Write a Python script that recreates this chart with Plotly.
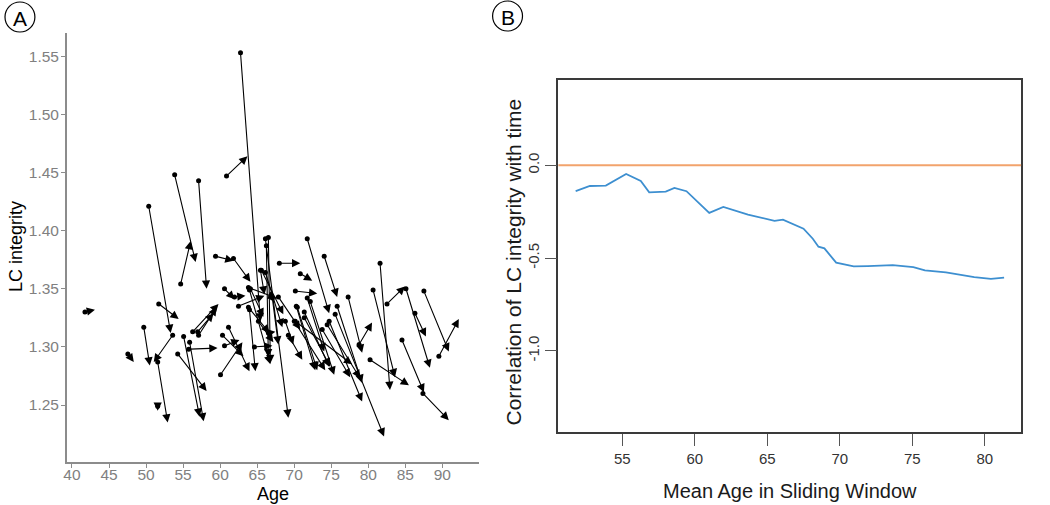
import plotly.graph_objects as go

W, H = 1050, 505

# ---- panel A: LC integrity at first visit (dot) and follow-up (arrow head) ----
age_start = [41.75, 47.54, 49.69, 51.71, 50.36, 53.59, 51.57, 51.57, 53.86, 54.67,
             57.09, 59.38, 61.80, 60.59, 61.94, 56.29, 56.96, 57.09, 55.07, 55.88,
             55.75, 54.27, 60.05, 61.13, 60.32, 60.59, 63.96, 63.96, 65.57, 60.86,
             62.75, 66.11, 66.51, 66.24, 67.99, 70.82, 70.15, 71.76, 74.05, 77.28,
             80.65, 81.59, 82.53, 85.09, 87.51, 86.30, 89.53, 84.55, 87.38, 80.24,
             78.76, 75.80, 75.53, 74.72, 70.15, 70.42, 71.36, 71.76, 72.17, 70.28,
             70.01, 71.36, 66.11, 65.44, 63.82, 64.63, 66.51, 63.82, 73.78, 74.45,
             64.09, 62.48, 65.17, 68.80, 67.86, 67.05, 69.21]
lc_start = [1.330, 1.294, 1.317, 1.337, 1.421, 1.310, 1.287, 1.249, 1.448, 1.354,
            1.443, 1.378, 1.376, 1.350, 1.343, 1.313, 1.313, 1.310, 1.309, 1.304,
            1.298, 1.294, 1.276, 1.317, 1.310, 1.301, 1.332, 1.349, 1.366, 1.447,
            1.553, 1.393, 1.394, 1.387, 1.372, 1.363, 1.348, 1.393, 1.378, 1.343,
            1.349, 1.372, 1.337, 1.350, 1.348, 1.329, 1.292, 1.306, 1.260, 1.289,
            1.302, 1.335, 1.328, 1.322, 1.322, 1.334, 1.330, 1.342, 1.339, 1.335,
            1.322, 1.325, 1.364, 1.366, 1.334, 1.300, 1.312, 1.351, 1.315, 1.319,
            1.350, 1.335, 1.322, 1.322, 1.343, 1.342, 1.310]
age_end = [43.10, 48.34, 50.50, 54.40, 53.32, 51.04, 52.92, 51.57, 56.69, 56.02,
           58.17, 61.80, 64.09, 61.94, 63.42, 59.78, 59.11, 59.52, 57.23, 57.77,
           59.65, 58.17, 63.01, 63.96, 63.15, 62.61, 64.76, 66.78, 68.53, 63.69,
           65.44, 69.21, 66.78, 66.51, 70.82, 72.44, 73.11, 74.72, 75.80, 79.17,
           83.61, 82.93, 84.95, 88.32, 90.87, 87.78, 92.22, 87.51, 90.87, 85.49,
           80.51, 79.17, 82.13, 79.17, 77.82, 73.11, 74.72, 74.05, 75.40, 72.84,
           74.19, 74.86, 68.40, 65.98, 66.65, 67.05, 67.46, 67.59, 77.55, 78.90,
           65.84, 65.98, 67.19, 69.88, 70.82, 67.86, 71.09]
lc_end = [1.332, 1.287, 1.284, 1.324, 1.312, 1.287, 1.235, 1.245, 1.373, 1.391,
          1.350, 1.374, 1.356, 1.341, 1.344, 1.337, 1.329, 1.334, 1.240, 1.236,
          1.299, 1.262, 1.304, 1.279, 1.292, 1.306, 1.279, 1.285, 1.328, 1.464,
          1.322, 1.239, 1.286, 1.291, 1.372, 1.357, 1.346, 1.329, 1.343, 1.295,
          1.274, 1.263, 1.352, 1.282, 1.296, 1.309, 1.324, 1.261, 1.237, 1.267,
          1.321, 1.269, 1.223, 1.253, 1.285, 1.280, 1.283, 1.296, 1.276, 1.280,
          1.280, 1.283, 1.317, 1.345, 1.312, 1.301, 1.313, 1.342, 1.274, 1.273,
          1.326, 1.344, 1.304, 1.302, 1.315, 1.302, 1.289]

a_xticks = [40, 45, 50, 55, 60, 65, 70, 75, 80, 85, 90]
a_yticks = [1.25, 1.30, 1.35, 1.40, 1.45, 1.50, 1.55]
a_ylabels = ["1.25", "1.30", "1.35", "1.40", "1.45", "1.50", "1.55"]

# ---- panel B: sliding-window correlation ----
window_age = [51.79, 52.77, 53.87, 55.27, 56.28, 56.86, 58.00, 58.60, 59.43, 61.00,
              61.97, 63.67, 65.50, 66.08, 67.50, 68.14, 68.53, 68.94, 69.75, 70.20,
              70.96, 71.93, 73.65, 75.07, 75.87, 77.32, 78.35, 79.27, 80.42, 81.33]
window_corr = [-0.140, -0.112, -0.110, -0.047, -0.085, -0.146, -0.142, -0.122, -0.140, -0.257,
               -0.225, -0.266, -0.300, -0.293, -0.342, -0.396, -0.439, -0.448, -0.525, -0.534,
               -0.545, -0.543, -0.538, -0.549, -0.567, -0.577, -0.590, -0.603, -0.612, -0.606]

b_xticks = [55, 60, 65, 70, 75, 80]
b_yticks = [0.0, -0.5, -1.0]
b_ylabels = ["0.0", "-0.5", "-1.0"]

FONT = "Liberation Sans, Arial, sans-serif"
GREY = "#808080"


def px(x):
    return x / W


def py(y):
    return 1 - y / H


def label(x, y, text, size, color="black", angle=0):
    # paper-positioned text, centred on the given pixel position
    fig.add_annotation(x=px(x), y=py(y), xref="paper", yref="paper", text=text,
                       textangle=angle, showarrow=False, xanchor="center", yanchor="middle",
                       font=dict(size=size, color=color, family=FONT))


fig = go.Figure()

fig.add_trace(go.Scatter(
    x=age_start, y=lc_start, mode="markers",
    marker=dict(size=5, color="black"),
    xaxis="x", yaxis="y", hoverinfo="skip",
))

for x0, y0, x1, y1 in zip(age_start, lc_start, age_end, lc_end):
    fig.add_annotation(
        x=x1, y=y1, ax=x0, ay=y0,
        xref="x", yref="y", axref="x", ayref="y",
        text="", showarrow=True, arrowhead=2, arrowsize=1.5,
        arrowwidth=1.1, arrowcolor="black", standoff=0,
    )

fig.add_trace(go.Scatter(
    x=window_age, y=window_corr, mode="lines",
    line=dict(color="#3d8fd0", width=1.8),
    xaxis="x2", yaxis="y2", hoverinfo="skip",
))

fig.add_shape(type="line", xref="x2 domain", yref="y2", x0=0, x1=1, y0=0, y1=0,
              line=dict(color="#f2a36c", width=2))

# panel letters
for cx, cy, letter in [(17, 17, "A"), (506, 16, "B")]:
    fig.add_shape(type="circle", xref="paper", yref="paper",
                  x0=px(cx - 15), x1=px(cx + 15), y0=py(cy + 15), y1=py(cy - 15),
                  line=dict(color="black", width=1.2))
    label(cx, cy + 1, letter, 21)

# axis titles
label(13, 246, "LC integrity", 18, angle=-90)
label(271, 494, "Age", 18)
label(511, 262, "Correlation of LC integrity with time", 21, color="#1a1a1a", angle=-90)
label(789, 491, "Mean Age in Sliding Window", 20, color="#1a1a1a")

fig.update_layout(
    width=W, height=H,
    margin=dict(l=0, r=0, t=0, b=0),
    plot_bgcolor="white", paper_bgcolor="white",
    showlegend=False,
    font=dict(family=FONT),
    xaxis=dict(
        domain=[px(64), px(477)], range=[39.3, 94.9],
        tickvals=a_xticks, showgrid=False, zeroline=False,
        showline=True, linecolor="#8c8c8c", linewidth=1.5,
        ticks="outside", ticklen=4, tickcolor="#8c8c8c",
        ticklabelstandoff=-6,
        tickfont=dict(size=15.5, color=GREY),
    ),
    yaxis=dict(
        domain=[py(462), py(33)], range=[1.201, 1.570],
        tickvals=a_yticks, ticktext=a_ylabels, showgrid=False, zeroline=False,
        showline=True, linecolor="#8c8c8c", linewidth=1.5,
        ticks="outside", ticklen=4, tickcolor="#8c8c8c",
        ticklabelstandoff=-1,
        tickfont=dict(size=15.5, color=GREY),
    ),
    xaxis2=dict(
        domain=[px(557), px(1021)], range=[50.6, 82.5], anchor="y2",
        tickvals=b_xticks, showgrid=False, zeroline=False,
        showline=True, mirror=True, linecolor="#3a3a3a", linewidth=1.5,
        ticks="outside", ticklen=12, tickcolor="#555555",
        tickfont=dict(size=15, color="#333333"),
    ),
    yaxis2=dict(
        domain=[py(432), py(80)], range=[-1.437, 0.459], anchor="x2",
        tickvals=b_yticks, ticktext=b_ylabels, tickangle=-90,
        showgrid=False, zeroline=False,
        showline=True, mirror=True, linecolor="#3a3a3a", linewidth=1.5,
        ticks="outside", ticklen=12, tickcolor="#555555",
        tickfont=dict(size=15, color="#333333"),
    ),
)

# the page's default body margin would shift the fixed-size figure by 8px
fig.write_html("out.html", config={"displayModeBar": False},
               post_script="document.body.style.margin='0';")
